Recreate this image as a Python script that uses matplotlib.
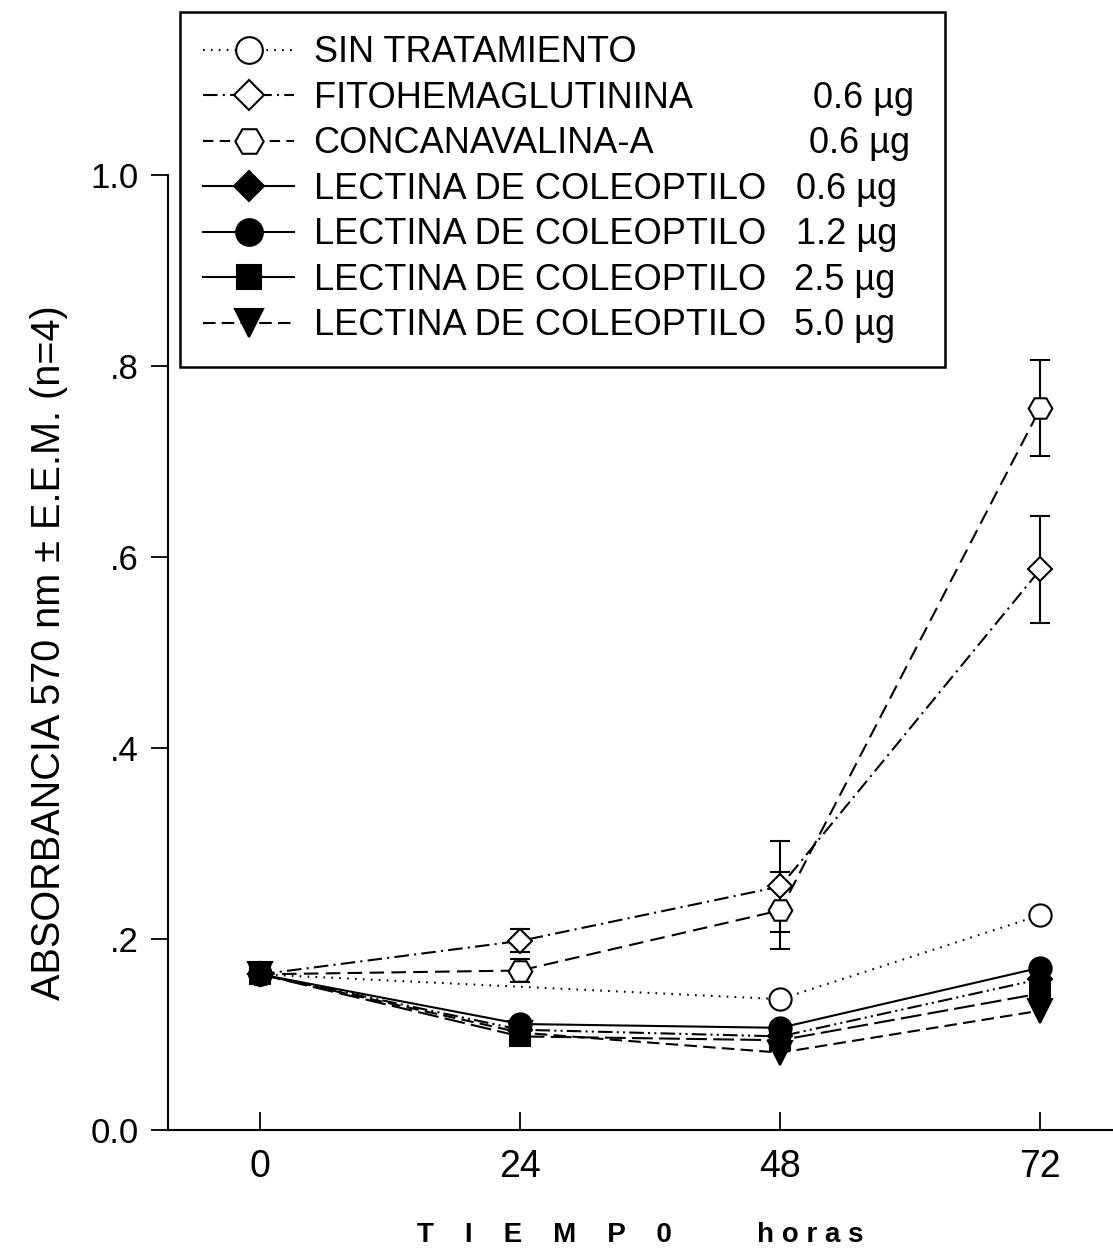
import matplotlib
matplotlib.use("Agg")
import matplotlib.pyplot as plt
from matplotlib.lines import Line2D

W, H = 1113, 1258
SANS = ['Liberation Sans', 'DejaVu Sans']

# datos (absorbancia 570 nm)
horas = [0, 24, 48, 72]
sin_horas = [0, 48, 72]
sin_trat = [0.163, 0.137, 0.225]
fito = [0.163, 0.198, 0.255, 0.587]
fito_err = [0, 0.012, 0.048, 0.056]
cona = [0.163, 0.167, 0.230, 0.756]
cona_err = [0, 0.012, 0.040, 0.050]
lec06 = [0.163, 0.105, 0.098, 0.158]
lec12 = [0.163, 0.111, 0.107, 0.170]
lec25 = [0.163, 0.098, 0.094, 0.143]
lec50 = [0.163, 0.102, 0.081, 0.125]

nombres = ['SIN TRATAMIENTO', 'FITOHEMAGLUTININA', 'CONCANAVALINA-A',
           'LECTINA DE COLEOPTILO', 'LECTINA DE COLEOPTILO',
           'LECTINA DE COLEOPTILO', 'LECTINA DE COLEOPTILO']
dosis = ['', '0.6 µg', '0.6 µg', '0.6 µg', '1.2 µg', '2.5 µg', '5.0 µg']
dosis_x = [0, 813, 809, 796, 796, 794, 794]
yticks = [0.0, 0.2, 0.4, 0.6, 0.8, 1.0]
ylabels = ['0.0', '.2', '.4', '.6', '.8', '1.0']
xticks = [0, 24, 48, 72]

fig = plt.figure(figsize=(W / 100, H / 100), dpi=100)
ax = fig.add_axes([168 / W, 128 / H, (1113 - 168) / W, (1130 - 175) / H])

lw = 1.5
mk = dict(color='black', lw=lw, markeredgewidth=1.5, markeredgecolor='black')

# lineas
ax.plot(sin_horas, sin_trat, ls=(0, (0.8, 3)), marker='o', ms=16,
        markerfacecolor='white', zorder=3, **mk)
ax.plot(horas, fito, ls=(0, (7, 2.5, 1, 2.5)), marker='D', ms=12.5,
        markerfacecolor='white', zorder=3, **mk)
ax.plot(horas, cona, ls=(0, (7, 3.5)), marker='H', ms=17,
        markerfacecolor='white', zorder=3, **mk)
ax.errorbar(horas[1:], fito[1:], yerr=fito_err[1:], fmt='none', ecolor='black',
            elinewidth=lw, capsize=7, capthick=lw, zorder=2)
ax.errorbar(horas[1:], cona[1:], yerr=cona_err[1:], fmt='none', ecolor='black',
            elinewidth=lw, capsize=7, capthick=lw, zorder=2)
ax.plot(horas, lec06, ls=(0, (7, 2, 1, 2, 1, 2)), marker='D', ms=12.5,
        markerfacecolor='black', zorder=4, **mk)
ax.plot(horas, lec12, ls='-', marker='o', ms=16,
        markerfacecolor='black', zorder=4, **mk)
ax.plot(horas, lec25, ls=(0, (10, 3)), marker='s', ms=14,
        markerfacecolor='black', zorder=4, **mk)
ax.plot(horas, lec50, ls=(0, (6, 3)), marker='v', ms=17,
        markerfacecolor='black', zorder=4, **mk)

ax.set_xlim(-8.5, 78.7)
ax.set_ylim(0, 1.0)
ax.spines['top'].set_visible(False)
ax.spines['right'].set_visible(False)
ax.spines['left'].set_linewidth(1.5)
ax.spines['bottom'].set_linewidth(1.5)

ax.set_yticks(yticks)
ax.set_yticklabels(ylabels, family=SANS, fontsize=25)
ax.set_xticks(xticks)
ax.set_xticklabels([str(t) for t in xticks], family=SANS, fontsize=27)
ax.tick_params(axis='y', direction='out', length=12, width=1.3, pad=9)
ax.tick_params(axis='x', direction='in', length=13, width=1.3, pad=14)

ax.set_ylabel('ABSORBANCIA 570 nm ± E.E.M. (n=4)', family=SANS, fontsize=28.5,
              labelpad=16)
ax.set_xlabel('T    I    E    M    P    0           h o r a s', family=SANS,
              fontsize=20, fontweight='bold', labelpad=26)

# leyenda
estilos = [(0, (0.8, 3)), (0, (7, 2.5, 1, 2.5)), (0, (5, 3)), '-', '-', '-', (0, (6, 3))]
marcas = ['o', 'D', 'H', 'D', 'o', 's', 'v']
rellenos = ['white', 'white', 'white', 'black', 'black', 'black', 'black']
tams = [16, 12.5, 17, 12.5, 16, 14, 17]
handles = [Line2D([], [], color='black', lw=lw, ls=s, marker=m, ms=t,
                  markerfacecolor=f, markeredgecolor='black', markeredgewidth=1.5)
           for s, m, f, t in zip(estilos, marcas, rellenos, tams)]

caja = (180 / W, (H - 360) / H, (945 - 180) / W, 348 / H)
leg = fig.legend(handles, nombres, loc='upper left', bbox_to_anchor=caja,
                 bbox_transform=fig.transFigure, mode='expand',
                 prop={'family': SANS, 'size': 26}, labelspacing=0.29,
                 borderpad=0.65, frameon=True, fancybox=False, edgecolor='black',
                 framealpha=1, handlelength=2.5, handletextpad=0.55,
                 markerscale=1.2, borderaxespad=0)
leg.get_frame().set_linewidth(1.8)

for txt, d, xd in zip(leg.get_texts(), dosis, dosis_x):
    if d:
        fig.add_artist(plt.Annotation(d, xy=(xd / W, 0.5),
                                      xycoords=(fig.transFigure, txt),
                                      va='center', ha='left', zorder=10,
                                      family=SANS, fontsize=26))

fig.savefig('out.png', dpi=100)
